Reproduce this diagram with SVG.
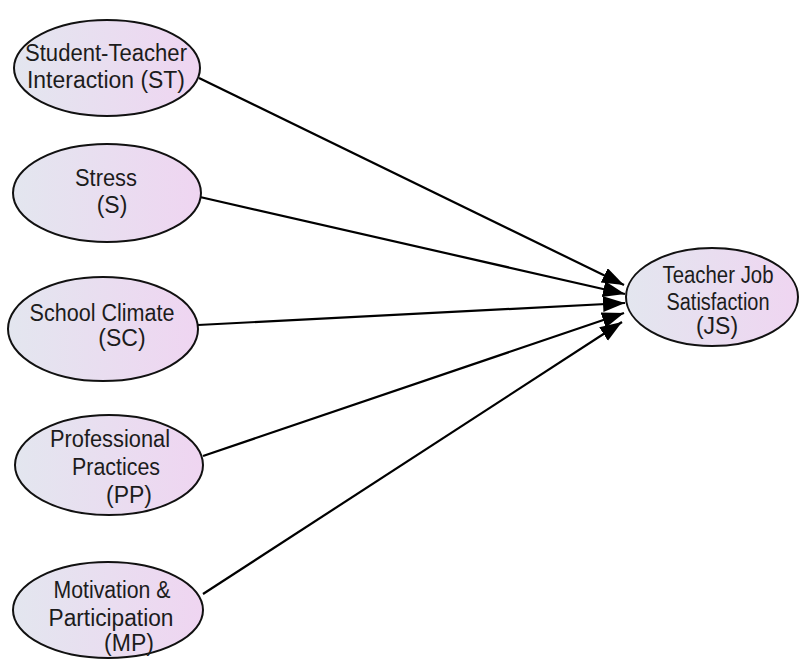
<svg xmlns="http://www.w3.org/2000/svg" width="799" height="659" viewBox="0 0 799 659">
<defs>
<linearGradient id="fill" x1="0" y1="0" x2="1" y2="0">
<stop offset="0" stop-color="#e3e6ef"/>
<stop offset="1" stop-color="#efd5f1"/>
</linearGradient>
<marker id="arrow" markerUnits="userSpaceOnUse" markerWidth="24" markerHeight="18" refX="22" refY="8" orient="auto" viewBox="0 0 24 18">
<path d="M0,0 L22,8 L0,16 z" fill="#000"/>
</marker>
<style>
.node ellipse { fill: url(#fill); stroke: #111; stroke-width: 2; }
.node text { font-family: "Liberation Sans", Arial, sans-serif; font-size: 23px; fill: #1c1c1c; text-anchor: middle; }
.edges line { stroke: #000; stroke-width: 2.2; marker-end: url(#arrow); }
</style>
</defs>
<rect width="799" height="659" fill="#fff"/>
<g class="edges" id="connectors">
<line x1="199" y1="78" x2="624" y2="285"/>
<line x1="200" y1="197" x2="625" y2="294"/>
<line x1="198" y1="325" x2="625" y2="303"/>
<line x1="203" y1="456" x2="624" y2="313"/>
<line x1="203" y1="594" x2="622" y2="322"/>
</g>
<g class="node" id="ST">
<ellipse cx="107" cy="68" rx="93" ry="48"/>
<text x="106" y="61" textLength="162" lengthAdjust="spacingAndGlyphs">Student-Teacher</text>
<text x="106" y="88" textLength="158" lengthAdjust="spacingAndGlyphs">Interaction (ST)</text>
</g>
<g class="node" id="S">
<ellipse cx="107" cy="193" rx="94" ry="49"/>
<text x="106" y="186" textLength="62" lengthAdjust="spacingAndGlyphs">Stress</text>
<text x="112" y="213">(S)</text>
</g>
<g class="node" id="SC">
<ellipse cx="103" cy="329" rx="95" ry="52"/>
<text x="102" y="321" textLength="145" lengthAdjust="spacingAndGlyphs">School Climate</text>
<text x="122" y="346">(SC)</text>
</g>
<g class="node" id="PP">
<ellipse cx="109" cy="465" rx="94" ry="50"/>
<text x="110" y="447" textLength="120" lengthAdjust="spacingAndGlyphs">Professional</text>
<text x="116" y="475" textLength="88" lengthAdjust="spacingAndGlyphs">Practices</text>
<text x="129" y="503">(PP)</text>
</g>
<g class="node" id="MP">
<ellipse cx="108" cy="610" rx="95" ry="48"/>
<text x="112" y="598" textLength="117" lengthAdjust="spacingAndGlyphs">Motivation &amp;</text>
<text x="111" y="626" textLength="125" lengthAdjust="spacingAndGlyphs">Participation</text>
<text x="129" y="651">(MP)</text>
</g>
<g class="node" id="JS">
<ellipse cx="712" cy="297" rx="86" ry="49"/>
<text x="718" y="283" textLength="111" lengthAdjust="spacingAndGlyphs">Teacher Job</text>
<text x="718" y="310" textLength="103" lengthAdjust="spacingAndGlyphs">Satisfaction</text>
<text x="717" y="334">(JS)</text>
</g>
</svg>
